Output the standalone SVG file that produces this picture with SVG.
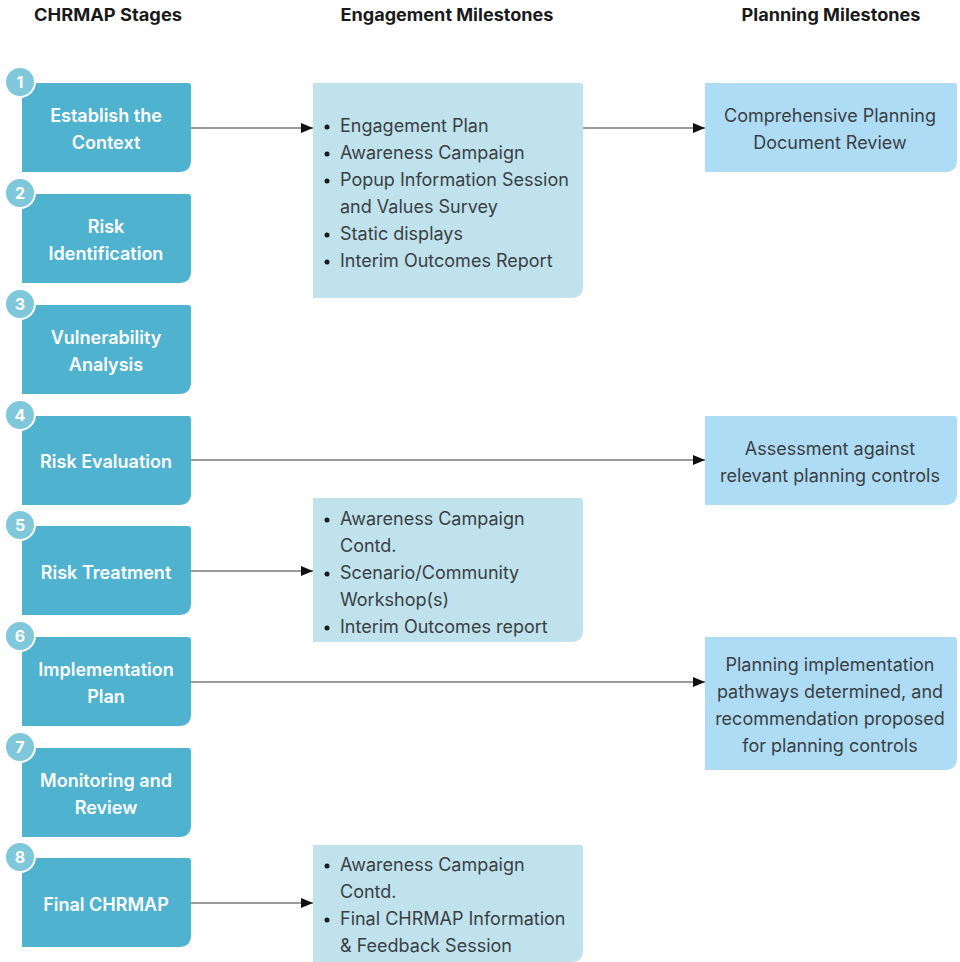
<svg xmlns="http://www.w3.org/2000/svg" width="960" height="962" viewBox="0 0 960 962">
<style>
.hdr{font-family:Inter,"Liberation Sans",sans-serif;font-weight:700;font-size:17px;fill:#1a1a1a;text-anchor:middle}
.stage{fill:#4fb2cf}
.num{fill:#7fc7db;stroke:#ffffff;stroke-width:2}
.numt{font-family:Inter,"Liberation Sans",sans-serif;font-weight:700;font-size:16px;fill:#ffffff;text-anchor:middle}
.st{font-family:Inter,"Liberation Sans",sans-serif;font-weight:600;font-size:18px;fill:#ffffff;text-anchor:middle}
.eng{fill:#bfe2ed}
.plan{fill:#aedcf4}
.bt{font-family:Inter,"Liberation Sans",sans-serif;font-size:18px;fill:#3a3f44}
.pt{font-family:Inter,"Liberation Sans",sans-serif;font-size:18px;fill:#3a3f44;text-anchor:middle}
.bul{fill:#1a1a1a}
.conn{stroke:#7a7a7a;stroke-width:1.3;fill:none;marker-end:url(#arr)}
</style>
<defs>
<marker id="arr" viewBox="0 0 12 10" refX="12" refY="5" markerWidth="12" markerHeight="10" markerUnits="userSpaceOnUse" orient="auto">
<path d="M0,0 L12,5 L0,10 Z" fill="#111"/>
</marker>
</defs>
<rect width="960" height="962" fill="#ffffff"/>
<g id="headers">
<text class="hdr" x="108" y="21" textLength="148" lengthAdjust="spacingAndGlyphs">CHRMAP Stages</text>
<text class="hdr" x="447" y="21" textLength="213" lengthAdjust="spacingAndGlyphs">Engagement Milestones</text>
<text class="hdr" x="831" y="21" textLength="179" lengthAdjust="spacingAndGlyphs">Planning Milestones</text>
</g>
<g id="connectors">
<line class="conn" x1="191" y1="128" x2="313" y2="128"/>
<line class="conn" x1="583" y1="128" x2="705" y2="128"/>
<line class="conn" x1="191" y1="460" x2="705" y2="460"/>
<line class="conn" x1="191" y1="571" x2="313" y2="571"/>
<line class="conn" x1="191" y1="682" x2="705" y2="682"/>
<line class="conn" x1="191" y1="903" x2="313" y2="903"/>
</g>
<g id="stage1">
<path class="stage" d="M22,83 H188 Q191,83 191,86 V160 Q191,172 179,172 H22 Z"/>
<circle class="num" cx="20" cy="82" r="15"/><text class="numt" x="20" y="88">1</text>
<text class="st" x="106" y="122">Establish the</text><text class="st" x="106" y="149">Context</text>
</g>
<g id="stage2">
<path class="stage" d="M22,194 H188 Q191,194 191,197 V271 Q191,283 179,283 H22 Z"/>
<circle class="num" cx="20" cy="193" r="15"/><text class="numt" x="20" y="199">2</text>
<text class="st" x="106" y="233">Risk</text><text class="st" x="106" y="260">Identification</text>
</g>
<g id="stage3">
<path class="stage" d="M22,305 H188 Q191,305 191,308 V382 Q191,394 179,394 H22 Z"/>
<circle class="num" cx="20" cy="304" r="15"/><text class="numt" x="20" y="310">3</text>
<text class="st" x="106" y="344">Vulnerability</text><text class="st" x="106" y="371">Analysis</text>
</g>
<g id="stage4">
<path class="stage" d="M22,416 H188 Q191,416 191,419 V493 Q191,505 179,505 H22 Z"/>
<circle class="num" cx="20" cy="415" r="15"/><text class="numt" x="20" y="421">4</text>
<text class="st" x="106" y="468">Risk Evaluation</text>
</g>
<g id="stage5">
<path class="stage" d="M22,526 H188 Q191,526 191,529 V603 Q191,615 179,615 H22 Z"/>
<circle class="num" cx="20" cy="525" r="15"/><text class="numt" x="20" y="531">5</text>
<text class="st" x="106" y="579">Risk Treatment</text>
</g>
<g id="stage6">
<path class="stage" d="M22,637 H188 Q191,637 191,640 V714 Q191,726 179,726 H22 Z"/>
<circle class="num" cx="20" cy="636" r="15"/><text class="numt" x="20" y="642">6</text>
<text class="st" x="106" y="676">Implementation</text><text class="st" x="106" y="703">Plan</text>
</g>
<g id="stage7">
<path class="stage" d="M22,748 H188 Q191,748 191,751 V825 Q191,837 179,837 H22 Z"/>
<circle class="num" cx="20" cy="747" r="15"/><text class="numt" x="20" y="753">7</text>
<text class="st" x="106" y="787">Monitoring and</text><text class="st" x="106" y="814">Review</text>
</g>
<g id="stage8">
<path class="stage" d="M22,858 H188 Q191,858 191,861 V935 Q191,947 179,947 H22 Z"/>
<circle class="num" cx="20" cy="857" r="15"/><text class="numt" x="20" y="863">8</text>
<text class="st" x="106" y="911">Final CHRMAP</text>
</g>
<g id="engagement1">
<path class="eng" d="M313,83 H580 Q583,83 583,86 V286 Q583,298 571,298 H313 Z"/>
<circle class="bul" cx="327" cy="127" r="2.5"/><text class="bt" x="340" y="132">Engagement Plan</text>
<circle class="bul" cx="327" cy="154" r="2.5"/><text class="bt" x="340" y="159">Awareness Campaign</text>
<circle class="bul" cx="327" cy="181" r="2.5"/><text class="bt" x="340" y="186">Popup Information Session</text>
<text class="bt" x="340" y="213">and Values Survey</text>
<circle class="bul" cx="327" cy="235" r="2.5"/><text class="bt" x="340" y="240">Static displays</text>
<circle class="bul" cx="327" cy="262" r="2.5"/><text class="bt" x="340" y="267">Interim Outcomes Report</text>
</g>
<g id="engagement2">
<path class="eng" d="M313,498 H580 Q583,498 583,501 V630 Q583,642 571,642 H313 Z"/>
<circle class="bul" cx="327" cy="520" r="2.5"/><text class="bt" x="340" y="525">Awareness Campaign</text>
<text class="bt" x="340" y="552">Contd.</text>
<circle class="bul" cx="327" cy="574" r="2.5"/><text class="bt" x="340" y="579">Scenario/Community</text>
<text class="bt" x="340" y="606">Workshop(s)</text>
<circle class="bul" cx="327" cy="628" r="2.5"/><text class="bt" x="340" y="633">Interim Outcomes report</text>
</g>
<g id="engagement3">
<path class="eng" d="M313,845 H580 Q583,845 583,848 V950 Q583,962 571,962 H313 Z"/>
<circle class="bul" cx="327" cy="866" r="2.5"/><text class="bt" x="340" y="871">Awareness Campaign</text>
<text class="bt" x="340" y="898">Contd.</text>
<circle class="bul" cx="327" cy="920" r="2.5"/><text class="bt" x="340" y="925">Final CHRMAP Information</text>
<text class="bt" x="340" y="952">&amp; Feedback Session</text>
</g>
<g id="planning1">
<path class="plan" d="M705,83 H954 Q957,83 957,86 V160 Q957,172 945,172 H705 Z"/>
<text class="pt" x="830" y="122">Comprehensive Planning</text>
<text class="pt" x="830" y="149">Document Review</text>
</g>
<g id="planning2">
<path class="plan" d="M705,416 H954 Q957,416 957,419 V493 Q957,505 945,505 H705 Z"/>
<text class="pt" x="830" y="455">Assessment against</text>
<text class="pt" x="830" y="482">relevant planning controls</text>
</g>
<g id="planning3">
<path class="plan" d="M705,637 H954 Q957,637 957,640 V758 Q957,770 945,770 H705 Z"/>
<text class="pt" x="830" y="671">Planning implementation</text>
<text class="pt" x="830" y="698">pathways determined, and</text>
<text class="pt" x="830" y="725">recommendation proposed</text>
<text class="pt" x="830" y="752">for planning controls</text>
</g>
</svg>
